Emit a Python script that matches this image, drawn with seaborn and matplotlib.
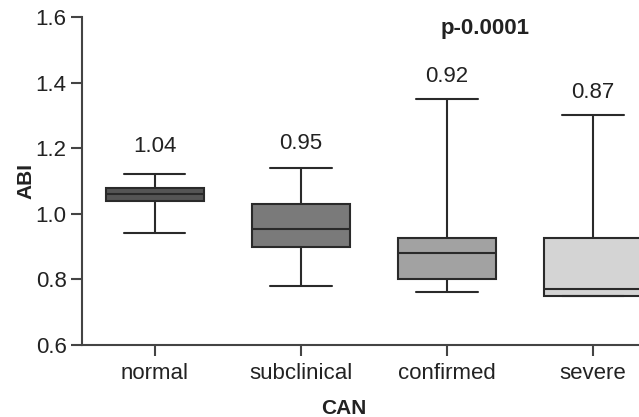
import pandas as pd
import matplotlib
matplotlib.use("Agg")
import matplotlib.pyplot as plt
import seaborn as sns

# summary values: min, q1, median, q3, max
groups = ["normal", "subclinical", "confirmed", "severe"]
normal = [0.94, 1.04, 1.06, 1.08, 1.12]
subclinical = [0.78, 0.90, 0.955, 1.03, 1.14]
confirmed = [0.76, 0.80, 0.88, 0.925, 1.35]
severe = [0.75, 0.75, 0.77, 0.925, 1.30]
means = ["1.04", "0.95", "0.92", "0.87"]
label_y = [1.205, 1.215, 1.42, 1.37]
colors = ["#555555", "#7a7a7a", "#a2a2a2", "#d4d4d4"]

rows = []
for g, vals in zip(groups, [normal, subclinical, confirmed, severe]):
    for v in vals:
        rows.append({"CAN": g, "ABI": v})
df = pd.DataFrame(rows)

sns.set_theme(style="white")
plt.rcParams['font.family'] = ['Liberation Sans', 'DejaVu Sans']

fig = plt.figure(figsize=(6.39, 4.17), dpi=100)
ax = fig.add_axes([0.128, 0.173, 0.872, 0.786])

sns.boxplot(data=df, x="CAN", y="ABI", hue="CAN", palette=colors, order=groups,
            whis=(0, 100), width=0.67, linecolor="#2a2a2a", linewidth=1.5,
            capwidths=0.42, legend=False, ax=ax)

for i, (t, y) in enumerate(zip(means, label_y)):
    ax.text(i, y, t, ha="center", va="center", fontsize=16, color="#222222")
ax.text(2.26, 1.566, "p-0.0001", ha="center", va="center", fontsize=16,
        fontweight="bold", color="#222222")

ax.set_ylim(0.6, 1.6)
ax.set_xlim(-0.5, 3.315)
ax.set_yticks([0.6, 0.8, 1.0, 1.2, 1.4, 1.6])
ax.set_yticklabels(["0.6", "0.8", "1.0", "1.2", "1.4", "1.6"])
sns.despine(ax=ax)
for s in ["left", "bottom"]:
    ax.spines[s].set_color("#444444")
    ax.spines[s].set_linewidth(1.5)
ax.tick_params(axis="both", which="both", direction="out", length=8, width=1.5,
               color="#444444", labelsize=16, labelcolor="#222222", left=True, bottom=True)
ax.tick_params(axis="x", pad=5)
ax.tick_params(axis="y", pad=3)
ax.set_xlabel("")
ax.set_ylabel("ABI", fontsize=15, fontweight="bold", labelpad=0, color="#222222")
fig.text(344 / 639, 1 - 409 / 417, "CAN", ha="center", va="center", fontsize=15,
         fontweight="bold", color="#222222")

plt.savefig("out.png", dpi=100)
